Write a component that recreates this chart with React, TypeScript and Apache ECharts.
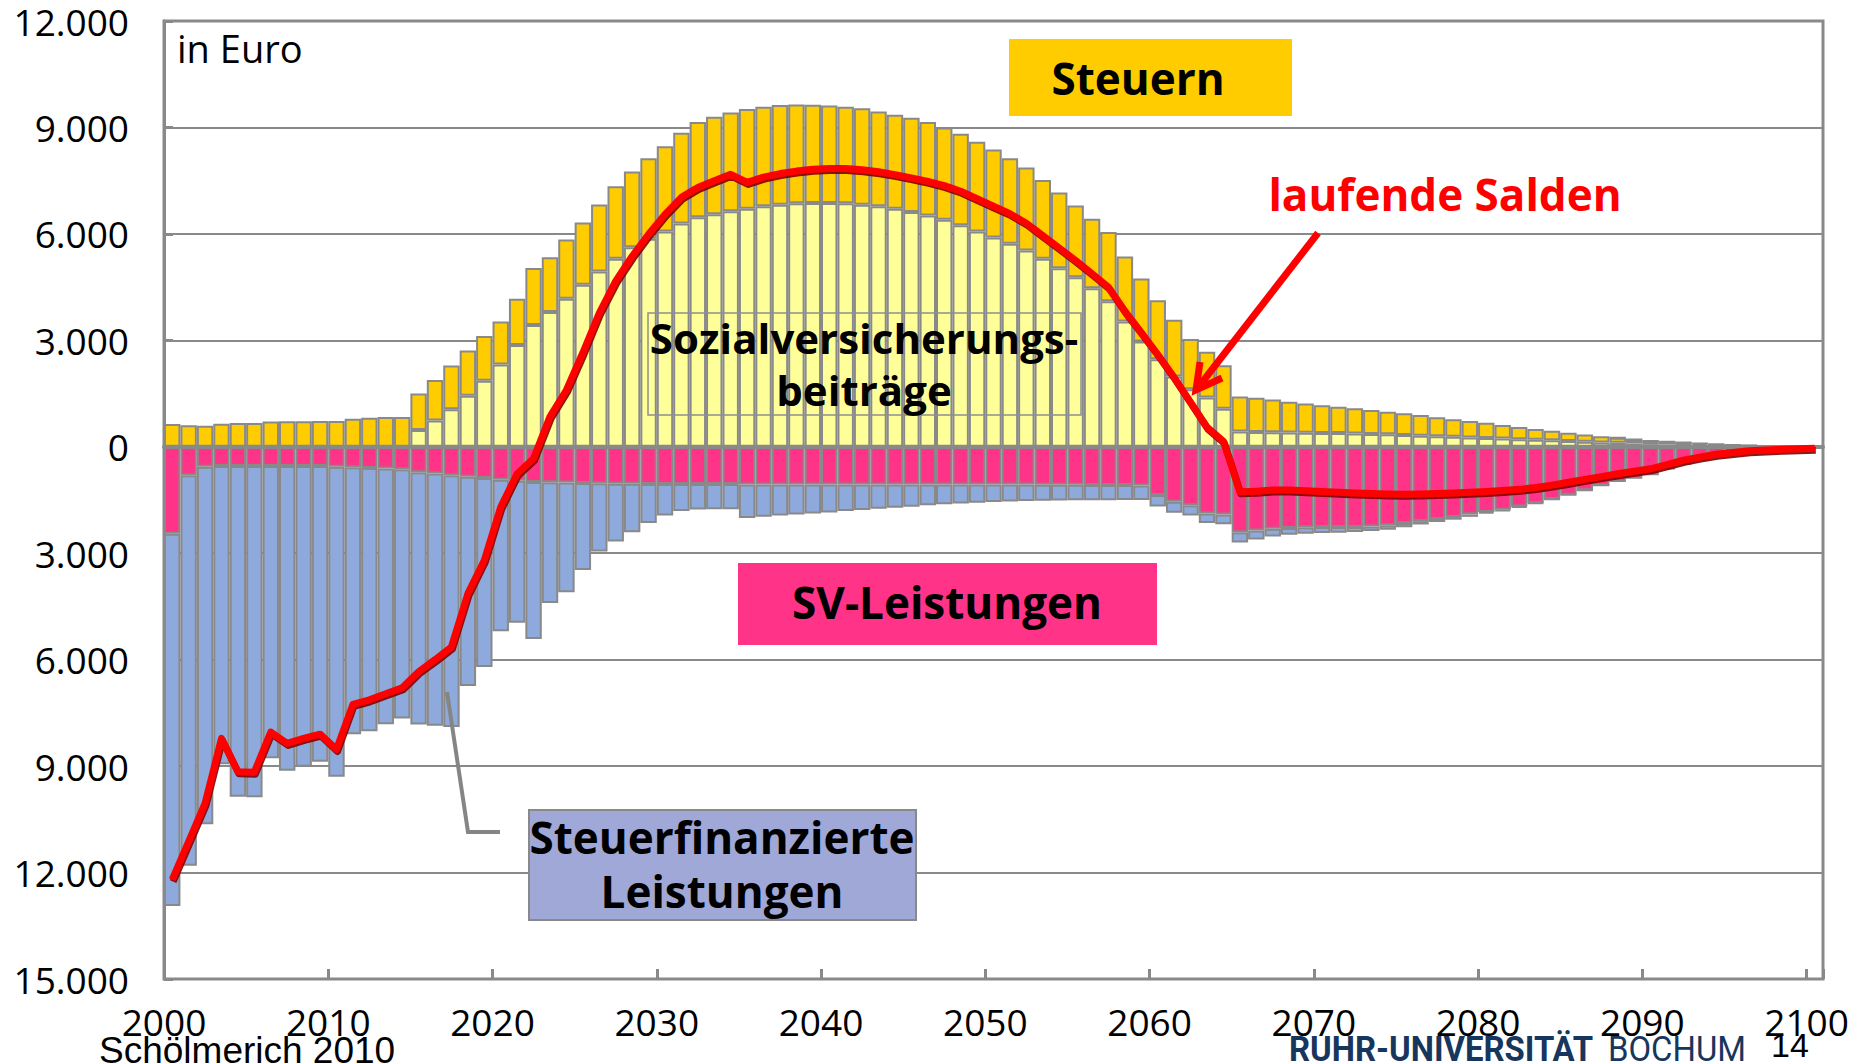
import React, { useEffect, useRef } from "react";
import * as echarts from "echarts";

// ---------- data (values in Euro) ----------
const years: string[] = [];
for (let y = 2000; y <= 2100; y++) years.push(String(y));

// positive stack (bottom -> top)
const sozialversicherungsbeitraege = [
  0, 0, 0, 0, 0, 0, 0, 0, 0, 0,
  0, 0, 0, 0, 0, 470, 740, 1060, 1440, 1860,
  2320, 2870, 3430, 3800, 4170, 4570, 4940, 5300, 5620, 5860,
  6070, 6290, 6470, 6550, 6640, 6710, 6780, 6820, 6860, 6870,
  6870, 6860, 6820, 6780, 6710, 6620, 6520, 6400, 6240, 6070,
  5900, 5720, 5530, 5300, 5030, 4780, 4470, 4100, 3530, 2970,
  2470, 1980, 1620, 1390, 1070, 430, 420, 410, 400, 395,
  390, 385, 375, 360, 350, 330, 310, 300, 280, 265,
  250, 235, 215, 200, 185, 160, 140, 120, 110, 90,
  75, 65, 50, 40, 30, 25, 18, 12, 8, 5,
  3,
];

const steuern = [
  640, 610, 590, 650, 670, 670, 710, 720, 720, 730,
  730, 790, 820, 840, 840, 1030, 1140, 1230, 1270, 1260,
  1210, 1300, 1610, 1540, 1670, 1750, 1890, 2040, 2140, 2270,
  2400, 2560, 2680, 2750, 2780, 2810, 2800, 2810, 2790, 2770,
  2750, 2720, 2720, 2670, 2650, 2650, 2630, 2600, 2580, 2530,
  2480, 2410, 2340, 2220, 2140, 2020, 1960, 1950, 1830, 1770,
  1660, 1600, 1420, 1290, 1230, 990, 960, 920, 870, 825,
  780, 745, 710, 675, 640, 615, 585, 530, 495, 465,
  425, 380, 345, 300, 265, 235, 205, 180, 145, 115,
  85, 75, 70, 55, 40, 25, 17, 13, 8, 5,
  3,
];

// negative stack (top -> bottom)
const svLeistungen = [
  -2450, -800, -560, -540, -540, -540, -540, -540, -540, -540,
  -560, -580, -600, -610, -630, -720, -750, -800, -845, -880,
  -930, -960, -990, -1000, -1010, -1020, -1030, -1040, -1040, -1050,
  -1050, -1050, -1050, -1050, -1050, -1060, -1060, -1060, -1060, -1060,
  -1060, -1060, -1060, -1060, -1060, -1060, -1060, -1060, -1060, -1060,
  -1060, -1060, -1060, -1070, -1070, -1070, -1080, -1080, -1080, -1090,
  -1360, -1550, -1650, -1880, -1910, -2410, -2360, -2310, -2290, -2270,
  -2260, -2260, -2260, -2245, -2215, -2150, -2095, -2035, -1980, -1905,
  -1840, -1775, -1680, -1585, -1470, -1350, -1225, -1085, -990, -900,
  -800, -640, -510, -380, -270, -200, -150, -110, -80, -60,
  -45,
];

const steuerfinanzierteLeistungen = [
  -10490, -11010, -10080, -8410, -9320, -9340, -8240, -8590, -8480, -8340,
  -8740, -7520, -7420, -7210, -7030, -7110, -7110, -7100, -5900, -5330,
  -4270, -4000, -4430, -3400, -3090, -2450, -1920, -1630, -1370, -1100,
  -890, -760, -720, -710, -710, -950, -910, -875, -850, -820,
  -790, -750, -720, -690, -660, -630, -590, -560, -540, -520,
  -495, -480, -470, -450, -445, -440, -430, -430, -420, -410,
  -320, -310, -290, -270, -270, -290, -250, -220, -190, -180,
  -170, -160, -145, -130, -125, -115, -95, -85, -75, -70,
  -45, -35, -30, -20, -15, -10, -5, -5, 0, 0,
  0, 0, 0, 0, 0, 0, 0, 0, 0, 0,
  0,
];

const laufendeSalden = [
  -12200, -11130, -10050, -8220, -9160, -9170, -8040, -8360, -8220, -8100,
  -8530, -7260, -7130, -6960, -6790, -6340, -6000, -5640, -4140, -3200,
  -1700, -760, -330, 850, 1600, 2650, 3770, 4670, 5370, 5990,
  6550, 7030, 7310, 7500, 7680, 7450, 7600, 7700, 7770, 7820,
  7840, 7840, 7810, 7750, 7670, 7580, 7480, 7360, 7200, 6990,
  6780, 6570, 6300, 5950, 5600, 5250, 4880, 4500, 3820, 3220,
  2600, 1950, 1250, 550, 150, -1270, -1250, -1220, -1220, -1240,
  -1260, -1280, -1300, -1320, -1330, -1340, -1330, -1320, -1300, -1280,
  -1260, -1230, -1200, -1150, -1080, -1000, -920, -840, -760, -690,
  -620, -500, -380, -290, -210, -160, -115, -90, -70, -55,
  -40,
];

// ---------- styling ----------
const GREY = "#898989";
const GOLD = "#FFCC00";
const LIGHT_YELLOW = "#FFFF99";
const PINK = "#FF3388";
const BLUE = "#8EA9DB";
const BOX_BLUE = "#A0A8D8";
const RED = "#FF0000";
const FONT = '"Open Sans", "Liberation Sans", sans-serif';

const fmtThousands = (v: number) =>
  String(Math.abs(Math.round(v))).replace(/\B(?=(\d{3})+(?!\d))/g, ".");

export default function App() {
  const ref = useRef<HTMLDivElement>(null);

  useEffect(() => {
    if (!ref.current) return;
    const chart = echarts.init(ref.current, undefined, { renderer: "svg" });

    const barBase = {
      type: "bar",
      stack: "total",
      stackStrategy: "samesign",
      barCategoryGap: "0%",
      xAxisIndex: 0,
      yAxisIndex: 0,
      emphasis: { disabled: true },
    };

    const txt = (
      text: string,
      x: number,
      y: number,
      font: string,
      fill = "#000",
      align = "center",
      extra: any = {}
    ) => ({
      type: "text",
      x,
      y,
      z: 100,
      silent: true,
      ...extra,
      style: { text, font, fill, align, verticalAlign: "middle" },
    });

    const option: any = {
      animation: false,
      backgroundColor: "#ffffff",
      grid: {
        left: 164,
        right: 49,
        top: 21,
        bottom: 85,
        show: true,
        borderColor: GREY,
        borderWidth: 3,
        backgroundColor: "transparent",
      },
      xAxis: [
        {
          type: "category",
          data: years,
          boundaryGap: true,
          position: "bottom",
          z: 3,
          axisLine: { show: true, onZero: true, lineStyle: { color: GREY, width: 4 } },
          axisTick: { show: false },
          axisLabel: { show: false },
          splitLine: { show: false },
        },
        {
          type: "value",
          min: 2000,
          max: 2101,
          interval: 10,
          position: "bottom",
          axisLine: { show: false, onZero: false },
          splitLine: { show: false },
          axisTick: { show: true, inside: true, length: 10, lineStyle: { color: GREY, width: 3 } },
          axisLabel: {
            margin: 24,
            color: "#000",
            fontFamily: FONT,
            fontSize: 37,
            formatter: (v: number) => (v % 10 === 0 ? String(v) : ""),
          },
        },
      ],
      yAxis: {
        type: "value",
        min: -15000,
        max: 12000,
        interval: 3000,
        axisLine: { show: true, lineStyle: { color: GREY, width: 3 } },
        axisTick: { show: true, inside: true, length: 9, lineStyle: { color: GREY, width: 3 } },
        splitLine: { show: true, lineStyle: { color: GREY, width: 2 } },
        axisLabel: {
          margin: 35,
          color: "#000",
          fontFamily: FONT,
          fontSize: 37,
          formatter: (v: number) => fmtThousands(v),
        },
      },
      series: [
        {
          ...barBase,
          name: "Sozialversicherungsbeiträge",
          data: sozialversicherungsbeitraege,
          itemStyle: { color: LIGHT_YELLOW, borderColor: GREY, borderWidth: 2 },
        },
        {
          ...barBase,
          name: "SV-Leistungen",
          data: svLeistungen,
          itemStyle: { color: PINK, borderColor: GREY, borderWidth: 2 },
        },
        {
          ...barBase,
          name: "Steuern",
          data: steuern,
          itemStyle: { color: GOLD, borderColor: GREY, borderWidth: 2 },
        },
        {
          ...barBase,
          name: "Steuerfinanzierte Leistungen",
          data: steuerfinanzierteLeistungen,
          itemStyle: { color: BLUE, borderColor: GREY, borderWidth: 2 },
        },
        {
          type: "line",
          name: "laufende Salden",
          data: laufendeSalden,
          xAxisIndex: 0,
          yAxisIndex: 0,
          z: 10,
          symbol: "none",
          emphasis: { disabled: true },
          lineStyle: {
            color: RED,
            width: 7,
            join: "round",
            shadowColor: "rgba(130,0,0,0.9)",
            shadowBlur: 1,
            shadowOffsetX: 1,
            shadowOffsetY: 2,
          },
        },
      ],
      graphic: {
        elements: [
          txt("in Euro", 177, 48, `38px ${FONT}`, "#000", "left"),
          {
            type: "rect",
            z: 100,
            silent: true,
            shape: { x: 1009, y: 39, width: 283, height: 77 },
            style: { fill: GOLD },
          },
          txt("Steuern", 1138, 78, `bold 44px ${FONT}`),
          txt("laufende Salden", 1445, 194, `bold 44px ${FONT}`, RED),
          {
            type: "line",
            z: 100,
            silent: true,
            shape: { x1: 1318, y1: 233, x2: 1200, y2: 385 },
            style: { stroke: RED, lineWidth: 7 },
          },
          {
            type: "polyline",
            z: 100,
            silent: true,
            shape: { points: [[1222, 378], [1196, 390], [1200, 362]] },
            style: { stroke: RED, lineWidth: 7, fill: "none", lineJoin: "miter" },
          },
          {
            type: "rect",
            z: 100,
            silent: true,
            shape: { x: 648, y: 313, width: 433, height: 102 },
            style: { fill: "none", stroke: "#8f8f8f", lineWidth: 1.5 },
          },
          txt("Sozialversicherungs-", 864, 337, `bold 42px ${FONT}`),
          txt("beiträge", 864, 389, `bold 42px ${FONT}`),
          {
            type: "rect",
            z: 100,
            silent: true,
            shape: { x: 738, y: 563, width: 419, height: 82 },
            style: { fill: PINK },
          },
          txt("SV-Leistungen", 947, 602, `bold 44px ${FONT}`),
          {
            type: "polyline",
            z: 100,
            silent: true,
            shape: { points: [[447, 692], [468, 832], [500, 832]] },
            style: { stroke: "#858585", lineWidth: 4, fill: "none" },
          },
          {
            type: "rect",
            z: 100,
            silent: true,
            shape: { x: 529, y: 810, width: 387, height: 110 },
            style: { fill: BOX_BLUE, stroke: GREY, lineWidth: 2 },
          },
          txt("Steuerfinanzierte", 722, 837, `bold 44px ${FONT}`),
          txt("Leistungen", 722, 891, `bold 44px ${FONT}`),
          txt("Schölmerich 2010", 99, 1050, `37px "Liberation Sans", Arial, sans-serif`, "#000", "left"),
          txt("RUHR-UNIVERSITÄT", 1289, 1049, `bold 35px Roboto, sans-serif`, "#17365D", "left", {
            scaleX: 0.94,
          }),
          txt("BOCHUM", 1608, 1049, `35px Roboto, sans-serif`, "#17365D", "left", { scaleX: 0.94 }),
          txt("14", 1771, 1045, `34px "Liberation Sans", Arial, sans-serif`, "#000", "left"),
        ],
      },
    };

    chart.setOption(option);
    return () => {
      chart.dispose();
    };
  }, []);

  return (
    <div
      ref={ref}
      style={{
        position: "fixed",
        left: 0,
        top: 0,
        width: 1872,
        height: 1064,
        background: "#ffffff",
      }}
    />
  );
}
